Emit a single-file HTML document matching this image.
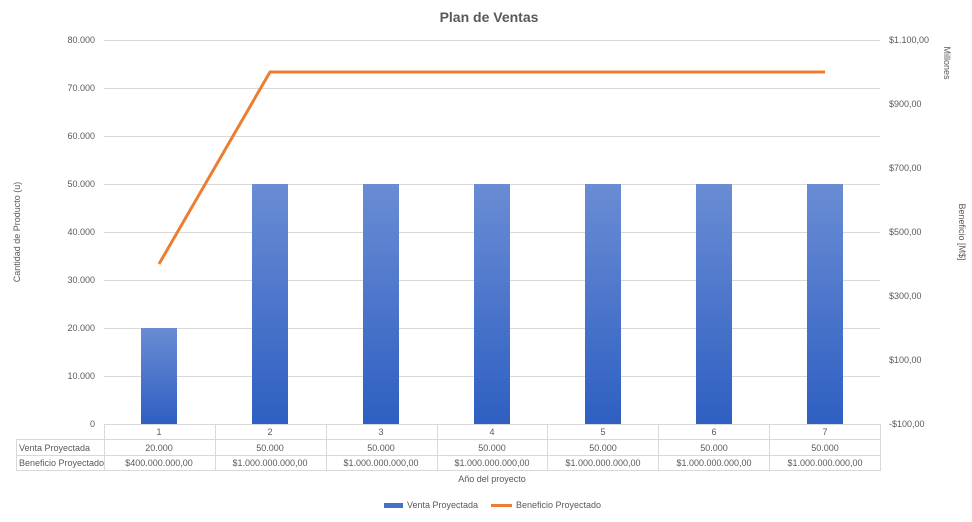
<!DOCTYPE html><html><head><style>body{margin:0;background:#fff}svg{font-family:"Liberation Sans",sans-serif}</style></head><body>
<svg width="972" height="517" xmlns="http://www.w3.org/2000/svg">
<defs><linearGradient id="g" x1="0" y1="0" x2="0" y2="1"><stop offset="0" stop-color="#6a8cd4"/><stop offset="1" stop-color="#2e5fc2"/></linearGradient></defs>
<text x="489" y="22" font-size="14" font-weight="bold" fill="#595959" text-anchor="middle">Plan de Ventas</text>
<g stroke="#d9d9d9" stroke-width="1">
<line x1="104" x2="880" y1="40.5" y2="40.5"/><line x1="104" x2="880" y1="88.5" y2="88.5"/><line x1="104" x2="880" y1="136.5" y2="136.5"/><line x1="104" x2="880" y1="184.5" y2="184.5"/><line x1="104" x2="880" y1="232.5" y2="232.5"/><line x1="104" x2="880" y1="280.5" y2="280.5"/><line x1="104" x2="880" y1="328.5" y2="328.5"/><line x1="104" x2="880" y1="376.5" y2="376.5"/>
</g>
<g font-size="9" fill="#595959" text-anchor="end">
<text x="95" y="43">80.000</text><text x="95" y="91">70.000</text><text x="95" y="139">60.000</text><text x="95" y="187">50.000</text><text x="95" y="235">40.000</text><text x="95" y="283">30.000</text><text x="95" y="331">20.000</text><text x="95" y="379">10.000</text><text x="95" y="427">0</text>
</g>
<g font-size="9" fill="#595959">
<text x="889" y="43">$1.100,00</text><text x="889" y="107">$900,00</text><text x="889" y="171">$700,00</text><text x="889" y="235">$500,00</text><text x="889" y="299">$300,00</text><text x="889" y="363">$100,00</text><text x="889" y="427">-$100,00</text>
</g>
<text transform="translate(944,63) rotate(90)" font-size="9" fill="#595959" text-anchor="middle">Millones</text>
<text transform="translate(959,232) rotate(90)" font-size="9" fill="#595959" text-anchor="middle">Beneficio [M$]</text>
<text transform="translate(20,232) rotate(-90)" font-size="9" fill="#595959" text-anchor="middle">Cantidad de Producto (u)</text>
<g fill="url(#g)">
<rect x="141" y="328" width="36" height="96"/>
<rect x="252" y="184" width="36" height="240"/><rect x="363" y="184" width="36" height="240"/><rect x="474" y="184" width="36" height="240"/><rect x="585" y="184" width="36" height="240"/><rect x="696" y="184" width="36" height="240"/><rect x="807" y="184" width="36" height="240"/>
</g>
<polyline points="159,264 270,72 381,72 492,72 603,72 714,72 825,72" fill="none" stroke="#ed7d31" stroke-width="3" stroke-linejoin="round"/>
<g stroke="#d9d9d9" stroke-width="1" fill="none">
<line x1="104" x2="880" y1="424.5" y2="424.5"/>
<line x1="16" x2="880" y1="439.5" y2="439.5"/><line x1="16" x2="880" y1="455.5" y2="455.5"/><line x1="16" x2="880" y1="470.5" y2="470.5"/>
<line x1="16.5" x2="16.5" y1="439" y2="471"/>
<line x1="104.5" x2="104.5" y1="424" y2="471"/><line x1="215.5" x2="215.5" y1="424" y2="471"/><line x1="326.5" x2="326.5" y1="424" y2="471"/><line x1="437.5" x2="437.5" y1="424" y2="471"/><line x1="547.5" x2="547.5" y1="424" y2="471"/><line x1="658.5" x2="658.5" y1="424" y2="471"/><line x1="769.5" x2="769.5" y1="424" y2="471"/><line x1="880.5" x2="880.5" y1="424" y2="471"/>
</g>
<g font-size="9" fill="#595959" text-anchor="middle">
<text x="159" y="435">1</text><text x="270" y="435">2</text><text x="381" y="435">3</text><text x="492" y="435">4</text><text x="603" y="435">5</text><text x="714" y="435">6</text><text x="825" y="435">7</text>
<text x="159" y="451">20.000</text><text x="270" y="451">50.000</text><text x="381" y="451">50.000</text><text x="492" y="451">50.000</text><text x="603" y="451">50.000</text><text x="714" y="451">50.000</text><text x="825" y="451">50.000</text>
<text x="159" y="466">$400.000.000,00</text><text x="270" y="466">$1.000.000.000,00</text><text x="381" y="466">$1.000.000.000,00</text><text x="492" y="466">$1.000.000.000,00</text><text x="603" y="466">$1.000.000.000,00</text><text x="714" y="466">$1.000.000.000,00</text><text x="825" y="466">$1.000.000.000,00</text>
<text x="492" y="482">Año del proyecto</text>
</g>
<g font-size="9" fill="#595959">
<text x="19" y="451">Venta Proyectada</text><text x="19" y="466">Beneficio Proyectado</text>
<rect x="384" y="503" width="19" height="5" fill="#4472c4"/><text x="407" y="508">Venta Proyectada</text>
<line x1="491" x2="512" y1="505.5" y2="505.5" stroke="#ed7d31" stroke-width="3"/><text x="516" y="508">Beneficio Proyectado</text>
</g>
</svg></body></html>
